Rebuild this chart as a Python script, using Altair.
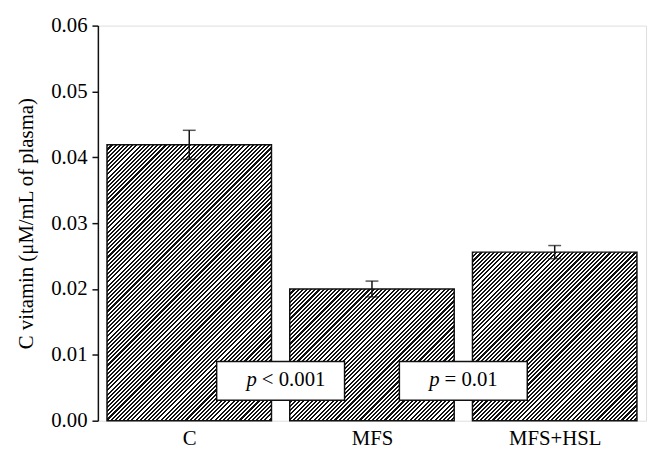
import json
import altair as alt
import pandas as pd

# ---- data ----
categories = ["C", "MFS", "MFS+HSL"]
means = [0.0419, 0.0200, 0.0256]
errors = [0.0022, 0.0012, 0.0010]

annot_labels_p = ["p", "p"]
annot_labels_rest = ["< 0.001", "= 0.01"]
annot_x = [0.5, 1.5]          # between bars
annot_y_lo = [0.0031, 0.0031]
annot_y_hi = [0.0090, 0.0090]

y_ticks = [0.00, 0.01, 0.02, 0.03, 0.04, 0.05, 0.06]

# ---- chart geometry / style ----
W_PX, H_PX = 555, 400
X_DOM = [-0.5, 2.5]
Y_DOM = [0, 0.06]
HALF = 0.45
FONT = "Liberation Serif"
FS = 21
PERIOD = 4.2      # hatch period measured along a pixel row
DARK = "#111111"

pos = list(range(len(categories)))
bars = pd.DataFrame({
    "cat": categories,
    "pos": pos,
    "value": means,
    "err": errors,
})
bars["x1"] = bars["pos"] - HALF
bars["x2"] = bars["pos"] + HALF
bars["zero"] = 0.0
bars["lo"] = bars["value"] - bars["err"]
bars["hi"] = bars["value"] + bars["err"]

ann = pd.DataFrame({
    "x": annot_x,
    "xa": [a - 0.35 for a in annot_x],
    "xb": [a + 0.35 for a in annot_x],
    "ylo": annot_y_lo,
    "yhi": annot_y_hi,
    "ym": [(a + b) / 2 for a, b in zip(annot_y_lo, annot_y_hi)],
    "p": annot_labels_p,
    "rest": annot_labels_rest,
})

xscale = alt.Scale(domain=X_DOM, nice=False, zero=False)
yscale = alt.Scale(domain=Y_DOM, nice=False)


def hatch(value):
    """Diagonal '////' hatch as a linear gradient in bounding-box units."""
    w = 2 * HALF * W_PX / (X_DOM[1] - X_DOM[0])
    h = value / (Y_DOM[1] - Y_DOM[0]) * H_PX
    k = (w + h) / (w * w + h * h)
    n = int(round((w + h) / PERIOD))
    stops = []
    for i in range(n):
        a = i / n
        m = (i + 0.5) / n
        b = (i + 1) / n
        stops += [
            {"offset": round(a, 6), "color": DARK},
            {"offset": round(m, 6), "color": DARK},
            {"offset": round(m, 6), "color": "#ffffff"},
            {"offset": round(b, 6), "color": "#ffffff"},
        ]
    return {"gradient": "linear", "x1": 0, "y1": 0,
            "x2": round(k * w, 6), "y2": round(k * h, 6), "stops": stops}


base = alt.Chart(bars)

label_expr = "%s[datum.value]" % json.dumps(categories)

layers = []
for cat, val in zip(categories, means):
    layer = base.transform_filter(alt.datum.cat == cat).mark_rect(
        fill=hatch(val), stroke="#111111", strokeWidth=1.5
    ).encode(
        x=alt.X("x1:Q", scale=xscale,
                axis=alt.Axis(values=pos, labelExpr=label_expr, title="",
                              domain=False, ticks=False, grid=False,
                              labelPadding=7, labelFontSize=FS,
                              labelFont=FONT, labelColor="black")),
        x2="x2:Q",
        y=alt.Y("value:Q", scale=yscale,
                axis=alt.Axis(values=y_ticks, format=".2f", grid=False,
                              title="C vitamin (μM/mL of plasma)",
                              titleFont=FONT, titleFontSize=FS,
                              titleFontWeight="normal", titleColor="black",
                              titlePadding=14,
                              labelFont=FONT, labelFontSize=FS,
                              labelColor="black", labelPadding=5,
                              domainColor="#111111", domainWidth=1.5,
                              tickColor="#111111", tickWidth=1.5,
                              tickSize=6)),
        y2="zero:Q",
    )
    layers.append(layer)

err_rule = base.mark_rule(color="#111111", strokeWidth=1.5).encode(
    x=alt.X("pos:Q", scale=xscale), y=alt.Y("lo:Q", scale=yscale), y2="hi:Q"
)
cap_hi = base.mark_tick(color="#111111", orient="horizontal", size=13,
                        thickness=1.5).encode(
    x=alt.X("pos:Q", scale=xscale), y=alt.Y("hi:Q", scale=yscale)
)
cap_lo = base.mark_tick(color="#111111", orient="horizontal", size=13,
                        thickness=1.5).encode(
    x=alt.X("pos:Q", scale=xscale), y=alt.Y("lo:Q", scale=yscale)
)

abase = alt.Chart(ann)
boxes = abase.mark_rect(fill="white", stroke="#111111", strokeWidth=1.5).encode(
    x=alt.X("xa:Q", scale=xscale), x2="xb:Q",
    y=alt.Y("ylo:Q", scale=yscale), y2="yhi:Q",
)
ptext = abase.mark_text(font=FONT, fontSize=FS, fontStyle="italic",
                        align="right", baseline="middle", dx=-24, dy=-1,
                        color="black").encode(
    x=alt.X("x:Q", scale=xscale), y=alt.Y("ym:Q", scale=yscale), text="p:N"
)
rtext = abase.mark_text(font=FONT, fontSize=FS, align="left",
                        baseline="middle", dx=-19, dy=-1,
                        color="black").encode(
    x=alt.X("x:Q", scale=xscale), y=alt.Y("ym:Q", scale=yscale), text="rest:N"
)

chart = alt.layer(*layers, err_rule, cap_hi, cap_lo, boxes, ptext, rtext).properties(
    width=W_PX, height=H_PX,
    autosize=alt.AutoSizeParams(type="none"),
    padding={"left": 91, "top": 15, "right": 5, "bottom": 40},
).configure_view(strokeWidth=0).configure(background="white")

chart.save("out.html", embed_options={"renderer": "svg", "actions": False})
